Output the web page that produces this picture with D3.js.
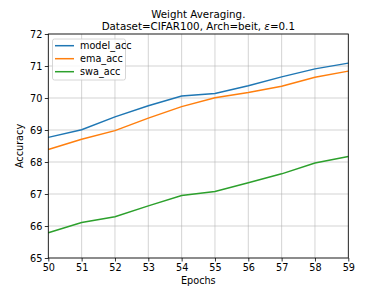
<!DOCTYPE html>
<html><head><meta charset="utf-8">
<script src="https://cdn.jsdelivr.net/npm/d3@7"></script>
<style>body{margin:0;background:#fff;} svg{display:block;font-family:"DejaVu Sans",sans-serif;}</style>
</head><body><svg id="c" width="388" height="291"></svg>
<script>
const epochs = [50,51,52,53,54,55,56,57,58,59];
const modelAcc = [68.77,69.01,69.41,69.76,70.06,70.14,70.38,70.66,70.91,71.09];
const emaAcc = [68.39,68.71,68.98,69.37,69.73,70.01,70.17,70.37,70.65,70.84];
const swaAcc = [65.79,66.11,66.29,66.63,66.95,67.08,67.35,67.63,67.97,68.17];
const yTicks = [65,66,67,68,69,70,71,72];
const seriesNames = ["model_acc","ema_acc","swa_acc"];
const colors = ["#1f77b4","#ff7f0e","#2ca02c"];
const series = [modelAcc, emaAcc, swaAcc];

const svg = d3.select("#c");
const L=48.3, R=348.3, T=34, B=258;
const x = d3.scaleLinear().domain([50,59]).range([L,R]);
const y = d3.scaleLinear().domain([65,72]).range([B,T]);

// grid
svg.append("g").selectAll("line").data(epochs).join("line")
  .attr("x1",d=>x(d)).attr("x2",d=>x(d)).attr("y1",T).attr("y2",B)
  .attr("stroke","#b0b0b0").attr("stroke-opacity",0.55).attr("stroke-width",1);
svg.append("g").selectAll("line").data(yTicks).join("line")
  .attr("y1",d=>y(d)).attr("y2",d=>y(d)).attr("x1",L).attr("x2",R)
  .attr("stroke","#b0b0b0").attr("stroke-opacity",0.55).attr("stroke-width",1);

// lines
const line = d3.line().x((d,i)=>x(epochs[i])).y(d=>y(d));
series.forEach((s,k)=>{
  svg.append("path").datum(s).attr("d",line).attr("fill","none")
    .attr("stroke",colors[k]).attr("stroke-width",1.5);
});

// axes
const xAxis = d3.axisBottom(x).tickValues(epochs).tickSize(3.5).tickPadding(2.5).tickFormat(d3.format("d"));
const yAxis = d3.axisLeft(y).tickValues(yTicks).tickSize(3.5).tickPadding(2.5).tickFormat(d3.format("d"));
const gx = svg.append("g").attr("transform",`translate(0,${B})`).call(xAxis);
const gy = svg.append("g").attr("transform",`translate(${L},0)`).call(yAxis);
[gx,gy].forEach(g=>{
  g.selectAll("text").attr("font-size","9.7px").attr("fill","#000").attr("font-family","DejaVu Sans");
  g.select(".domain").remove();
  g.selectAll(".tick line").attr("stroke","#000").attr("stroke-width",0.8);
});
// frame
svg.append("rect").attr("x",L).attr("y",T).attr("width",R-L).attr("height",B-T)
  .attr("fill","none").attr("stroke","#000").attr("stroke-width",0.8);

// labels
svg.append("text").attr("x",(L+R)/2).attr("y",284).attr("text-anchor","middle")
  .attr("font-size","9.7px").text("Epochs");
svg.append("text").attr("transform",`translate(23,${(T+B)/2}) rotate(-90)`)
  .attr("text-anchor","middle").attr("font-size","9.7px").text("Accuracy");
svg.append("text").attr("x",(L+R)/2).attr("y",17.5).attr("text-anchor","middle")
  .attr("font-size","10.3px").text("Weight Averaging.");
const t2 = svg.append("text").attr("x",(L+R)/2).attr("y",29.5).attr("text-anchor","middle")
  .attr("font-size","10.3px");
t2.append("tspan").text("Dataset=CIFAR100, Arch=beit, ");
t2.append("tspan").attr("font-style","italic").text("ε");
t2.append("tspan").text("=0.1");

// legend
const lg = svg.append("g");
lg.append("rect").attr("x",52.5).attr("y",39).attr("width",73).attr("height",41).attr("rx",2)
  .attr("fill","#fff").attr("fill-opacity",0.8).attr("stroke","#cccccc").attr("stroke-width",0.8);
seriesNames.forEach((n,k)=>{
  const yy = 45.7 + k*13;
  lg.append("line").attr("x1",55).attr("x2",74).attr("y1",yy).attr("y2",yy)
    .attr("stroke",colors[k]).attr("stroke-width",1.5);
  lg.append("text").attr("x",80).attr("y",yy+3.4).attr("font-size","9.7px").text(n);
});
</script></body></html>
